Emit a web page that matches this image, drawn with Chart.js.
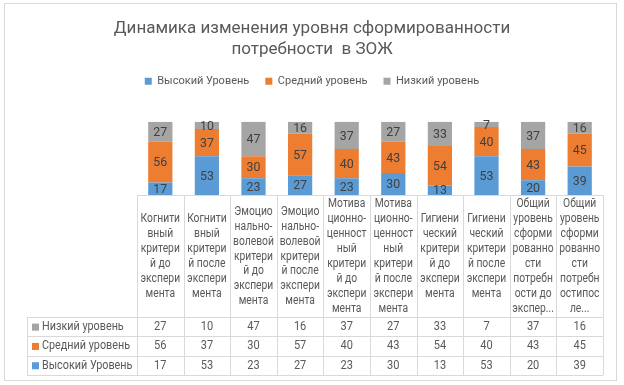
<!DOCTYPE html>
<html>
<head>
<meta charset="utf-8">
<script src="https://cdn.jsdelivr.net/npm/chart.js@4.4.1/dist/chart.umd.min.js"></script>
<style>
  body { margin: 0; background: #fff; }
  #wrap { width: 624px; height: 385px; }
</style>
</head>
<body>
<div id="wrap"><canvas id="zozhChart" width="624" height="385"></canvas></div>
<script>
// categories, already broken into lines the way Excel wraps them
const categories = [
  ['Когнити', 'вный', 'критери', 'й до', 'экспери', 'мента'],
  ['Когнити', 'вный', 'критери', 'й после', 'экспери', 'мента'],
  ['Эмоцио', 'нально-', 'волевой', 'критери', 'й до', 'экспери', 'мента'],
  ['Эмоцио', 'нально-', 'волевой', 'критери', 'й после', 'экспери', 'мента'],
  ['Мотива', 'ционно-', 'ценност', 'ный', 'критери', 'й до', 'экспери', 'мента'],
  ['Мотива', 'ционно-', 'ценност', 'ный', 'критери', 'й после', 'экспери', 'мента'],
  ['Гигиени', 'ческий', 'критери', 'й до', 'экспери', 'мента'],
  ['Гигиени', 'ческий', 'критери', 'й после', 'экспери', 'мента'],
  ['Общий', 'уровень', 'сформи', 'рованно', 'сти', 'потребн', 'ости до', 'экспер...'],
  ['Общий', 'уровень', 'сформи', 'рованно', 'сти', 'потребн', 'остипос', 'ле...']
];

const high_values = [17, 53, 23, 27, 23, 30, 13, 53, 20, 39];
const mid_values  = [56, 37, 30, 57, 40, 43, 54, 40, 43, 45];
const low_values  = [27, 10, 47, 16, 37, 27, 33, 7, 37, 16];

const series_names = ['Высокий Уровень', 'Средний уровень', 'Низкий уровень'];
const series_colors = ['#5B9BD5', '#ED7D31', '#A5A5A5'];

const text_color = '#595959';
const line_color = '#D9D9D9';
const font_name = 'Roboto, "Open Sans", sans-serif';

// Calibri is narrow, so squeeze table text a little
function narrowText(ctx, text, x, y, squeeze) {
  ctx.save();
  ctx.translate(x, y);
  ctx.scale(squeeze, 1);
  ctx.fillText(text, 0, 0);
  ctx.restore();
}

// numbers inside the bar segments
const segmentLabels = {
  id: 'segmentLabels',
  afterDatasetsDraw(chart) {
    const ctx = chart.ctx;
    ctx.save();
    ctx.font = '13px ' + font_name;
    ctx.fillStyle = '#404040';
    ctx.textAlign = 'center';
    ctx.textBaseline = 'middle';
    chart.data.datasets.forEach((ds, i) => {
      chart.getDatasetMeta(i).data.forEach((bar, j) => {
        const p = bar.getProps(['x', 'y', 'base'], true);
        narrowText(ctx, String(ds.data[j]), p.x, (p.y + p.base) / 2 + 1, 0.95);
      });
    });
    ctx.restore();
  }
};

// data table under the plot + outer frame
const dataTable = {
  id: 'dataTable',
  afterDraw(chart) {
    const ctx = chart.ctx;
    const area = chart.chartArea;
    const xs = chart.scales.x;
    const n = categories.length;
    const colW = (area.right - area.left) / n;
    const top = area.bottom;
    const catBottom = 317;
    const rowH = 19.3;
    const legendLeft = 27;
    const tableBottom = catBottom + rowH * 3;

    ctx.save();
    ctx.strokeStyle = line_color;
    ctx.lineWidth = 1;

    // horizontal lines
    ctx.beginPath();
    ctx.moveTo(area.left, top + 0.5);
    ctx.lineTo(area.right, top + 0.5);
    for (let r = 0; r <= 3; r++) {
      const y = Math.round(catBottom + rowH * r) + 0.5;
      ctx.moveTo(legendLeft, y);
      ctx.lineTo(area.right, y);
    }
    // vertical lines
    for (let c = 0; c <= n; c++) {
      const x = Math.round(area.left + colW * c) + 0.5;
      ctx.moveTo(x, top);
      ctx.lineTo(x, tableBottom);
    }
    ctx.moveTo(legendLeft + 0.5, catBottom);
    ctx.lineTo(legendLeft + 0.5, tableBottom);
    ctx.stroke();

    // category labels
    ctx.fillStyle = text_color;
    ctx.font = '12px ' + font_name;
    ctx.textAlign = 'center';
    ctx.textBaseline = 'middle';
    const lh = 14.9;
    categories.forEach((lines, i) => {
      const cx = xs.getPixelForValue(i);
      ctx.save();
      ctx.beginPath();
      ctx.rect(area.left + colW * i, top + 1, colW, catBottom - top - 1);
      ctx.clip();
      const mid = (top + catBottom) / 2 + 0.5;
      const y0 = mid - (lines.length - 1) * lh / 2;
      lines.forEach((t, k) => narrowText(ctx, t, cx, y0 + k * lh, 0.86));
      ctx.restore();
    });

    // value rows: low, mid, high (top to bottom)
    const rows = [
      [series_names[2], series_colors[2], low_values],
      [series_names[1], series_colors[1], mid_values],
      [series_names[0], series_colors[0], high_values]
    ];
    rows.forEach((row, r) => {
      const cy = catBottom + rowH * r + rowH / 2 + 0.5;
      ctx.fillStyle = row[1];
      ctx.fillRect(legendLeft + 5, cy - 3.5, 7, 7);
      ctx.fillStyle = text_color;
      ctx.textAlign = 'left';
      ctx.font = '12px ' + font_name;
      narrowText(ctx, row[0], legendLeft + 15, cy, 0.9);
      ctx.textAlign = 'center';
      row[2].forEach((v, i) => narrowText(ctx, String(v), xs.getPixelForValue(i), cy, 0.92));
    });

    // chart frame
    ctx.strokeStyle = line_color;
    ctx.strokeRect(4.5, 3.5, 612, 377);
    ctx.restore();
  }
};

// extra room under the legend
const legendGap = {
  id: 'legendGap',
  beforeInit(chart) {
    const origFit = chart.legend.fit;
    chart.legend.fit = function () {
      origFit.bind(chart.legend)();
      this.height += 25;
    };
  }
};

const ctx = document.getElementById('zozhChart').getContext('2d');

new Chart(ctx, {
  type: 'bar',
  data: {
    labels: categories.map(c => c.join('')),
    datasets: [
      { label: series_names[0], data: high_values, backgroundColor: series_colors[0] },
      { label: series_names[1], data: mid_values, backgroundColor: series_colors[1] },
      { label: series_names[2], data: low_values, backgroundColor: series_colors[2] }
    ]
  },
  options: {
    responsive: false,
    animation: false,
    datasets: {
      bar: { categoryPercentage: 1, barPercentage: 0.52 }
    },
    layout: {
      padding: { left: 21, right: 21, top: 0, bottom: 0 }
    },
    plugins: {
      title: {
        display: true,
        text: ['Динамика изменения уровня сформированности', 'потребности  в ЗОЖ'],
        color: text_color,
        font: { family: font_name, size: 17, weight: 'normal', lineHeight: 1.2 },
        padding: { top: 19, bottom: 0 }
      },
      legend: {
        labels: {
          boxWidth: 7,
          boxHeight: 7,
          padding: 16,
          color: text_color,
          font: { family: font_name, size: 11 }
        }
      },
      tooltip: { enabled: false }
    },
    scales: {
      x: {
        stacked: true,
        grid: { display: false },
        border: { display: false },
        ticks: { display: false },
        afterFit(scale) { scale.height = 190; }
      },
      y: {
        stacked: true, min: 0, max: 100,
        grid: { display: false },
        border: { display: false },
        ticks: { display: false },
        afterFit(scale) { scale.width = 116; }
      }
    }
  },
  plugins: [segmentLabels, dataTable, legendGap]
});
</script>
</body>
</html>
